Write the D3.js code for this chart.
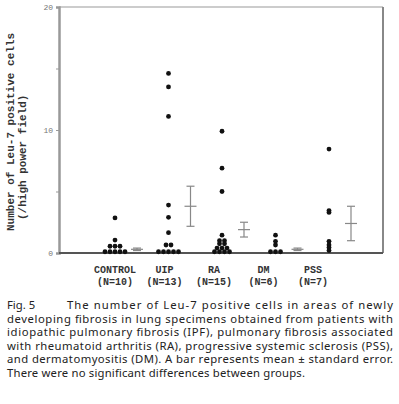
<!DOCTYPE html>
<html>
<head>
<meta charset="utf-8">
<script src="https://cdn.jsdelivr.net/npm/d3@7"></script>
<style>
  body { margin: 0; background: #fff; }
</style>
</head>
<body>
<div id="chart"></div>
<script>
const width = 399
const height = 404

// data
const categories = ["CONTROL", "UIP", "RA", "DM", "PSS"]
const nLabels = ["(N=10)", "(N=13)", "(N=15)", "(N=6)", "(N=7)"]
const controlVals = [2.85, 1.05, 0.55, 0.55, 0.55, 0.1, 0.1, 0.1, 0.1, 0.1]
const uipVals = [14.6, 13.5, 11.1, 3.9, 2.9, 1.65, 0.65, 0.65, 0.1, 0.1, 0.1, 0.1, 0.1]
const raVals = [9.9, 6.9, 5.0, 1.45, 1.0, 1.0, 0.75, 0.75, 0.4, 0.4, 0.4, 0.1, 0.1, 0.1, 0.1]
const dmVals = [1.45, 0.95, 0.65, 0.1, 0.1, 0.1]
const pssVals = [8.45, 3.45, 3.3, 0.95, 0.65, 0.45, 0.2]
const meanVals = [0.3, 3.8, 1.9, 0.3, 2.4]
const seVals = [0.1, 1.63, 0.6, 0.1, 1.4]
const yTicks = [0, 10, 20]
const yLabel = ["Number of Leu-7 positive cells", "(/high power field)"]
const captionHead = "Fig. 5"
const captionLines = [
  "The number of Leu-7 positive cells in areas of newly",
  "developing fibrosis in lung specimens obtained from patients with",
  "idiopathic pulmonary fibrosis (IPF), pulmonary fibrosis associated",
  "with rheumatoid arthritis (RA), progressive systemic sclerosis (PSS),",
  "and dermatomyositis (DM).  A bar represents mean \u00b1 standard error.",
  "There were no significant differences between groups."
]
const groups = [controlVals, uipVals, raVals, dmVals, pssVals]

const plot = { left: 59, right: 383, top: 7, bottom: 253 }

const svg = d3.select("#chart")
    .append("svg")
    .attr("width", width)
    .attr("height", height)

const y = d3.scaleLinear().domain([0, 20]).range([plot.bottom, plot.top])
// dots sit a little wider apart than the category names
const xDot = d3.scalePoint().domain(categories).range([115, 329])
const xLab = d3.scalePoint().domain(categories).range([115, 313])

// frame
svg.append("line")
    .attr("x1", plot.left).attr("x2", plot.right)
    .attr("y1", plot.top).attr("y2", plot.top)
    .attr("stroke", "#bbb").attr("stroke-width", 1.5)
svg.append("line")
    .attr("x1", plot.right).attr("x2", plot.right)
    .attr("y1", plot.top).attr("y2", plot.bottom)
    .attr("stroke", "#888").attr("stroke-width", 2)

// y axis
const yAxis = svg.append("g")
    .attr("transform", `translate(${plot.left},0)`)
    .call(d3.axisLeft(y).tickValues([0, 5, 10, 15, 20]).tickSize(3).tickFormat(d => yTicks.includes(d) ? d : ""))
yAxis.select(".domain").attr("stroke", "#999").attr("stroke-width", 2.5)
yAxis.selectAll(".tick line").attr("stroke", "#999").attr("stroke-width", 1)
yAxis.selectAll(".tick text")
    .attr("font-family", "Liberation Mono")
    .attr("font-size", 8)
    .attr("fill", "#777")
    .attr("x", -6)

// x axis line
svg.append("line")
    .attr("x1", plot.left).attr("x2", plot.right)
    .attr("y1", plot.bottom).attr("y2", plot.bottom)
    .attr("stroke", "#555").attr("stroke-width", 2)

// y label
yLabel.forEach((t, i) => {
  svg.append("text")
      .attr("transform", `translate(${i === 0 ? 14 : 26},${i === 0 ? 231 : 220}) rotate(-90)`)
      .attr("font-family", "Liberation Mono")
      .attr("font-weight", "bold")
      .attr("font-size", 11)
      .attr("fill", "#333")
      .text(t)
})

// dots, spread sideways when values repeat
const dots = []
groups.forEach((vals, gi) => {
  const counts = d3.rollup(vals, v => v.length, d => d)
  const seen = new Map()
  vals.forEach(v => {
    const n = counts.get(v)
    const k = seen.get(v) || 0
    seen.set(v, k + 1)
    dots.push({ cat: categories[gi], value: v, off: (k - (n - 1) / 2) * 5 })
  })
})

svg.append("g")
    .selectAll("circle")
    .data(dots)
    .enter()
    .append("circle")
    .attr("cx", d => xDot(d.cat) + d.off)
    .attr("cy", d => y(d.value))
    .attr("r", 2.4)
    .attr("fill", "#111")

// mean +/- SE bars
const bars = svg.append("g")
    .selectAll("g")
    .data(categories)
    .enter()
    .append("g")
    .attr("stroke", "#888")
    .attr("stroke-width", 1.2)
bars.append("line")
    .attr("x1", d => xDot(d) + 22).attr("x2", d => xDot(d) + 22)
    .attr("y1", (d, i) => y(meanVals[i] + seVals[i]))
    .attr("y2", (d, i) => y(meanVals[i] - seVals[i]))
bars.append("line")
    .attr("x1", d => xDot(d) + 18).attr("x2", d => xDot(d) + 26)
    .attr("y1", (d, i) => y(meanVals[i] + seVals[i]))
    .attr("y2", (d, i) => y(meanVals[i] + seVals[i]))
bars.append("line")
    .attr("x1", d => xDot(d) + 18).attr("x2", d => xDot(d) + 26)
    .attr("y1", (d, i) => y(meanVals[i] - seVals[i]))
    .attr("y2", (d, i) => y(meanVals[i] - seVals[i]))
bars.append("line")
    .attr("x1", d => xDot(d) + 16).attr("x2", d => xDot(d) + 28)
    .attr("y1", (d, i) => y(meanVals[i]))
    .attr("y2", (d, i) => y(meanVals[i]))

// category labels
const labelStyle = sel => sel
    .attr("text-anchor", "middle")
    .attr("font-family", "Liberation Mono")
    .attr("font-weight", "bold")
    .attr("font-size", 10)
    .attr("fill", "#333")
svg.append("g")
    .selectAll("text")
    .data(categories)
    .enter()
    .append("text")
    .attr("x", d => xLab(d))
    .attr("y", 273)
    .call(labelStyle)
    .text(d => d)
svg.append("g")
    .selectAll("text")
    .data(nLabels)
    .enter()
    .append("text")
    .attr("x", (d, i) => xLab(categories[i]))
    .attr("y", 285)
    .call(labelStyle)
    .text(d => d)

// caption, justified
const cap = svg.append("g")
    .attr("font-family", "Noto Sans")
    .attr("font-size", 11.3)
    .attr("fill", "#222")
cap.append("text").attr("x", 7).attr("y", 309).text(captionHead)
captionLines.forEach((t, i) => {
  const txt = cap.append("text")
      .attr("x", i === 0 ? 67 : 7)
      .attr("y", 309 + i * 13.6)
      .text(t)
  const len = i === 0 ? 326 : (i === captionLines.length - 1 ? 298 : 386)
  txt.attr("textLength", len).attr("lengthAdjust", "spacing")
})
</script>
</body>
</html>
